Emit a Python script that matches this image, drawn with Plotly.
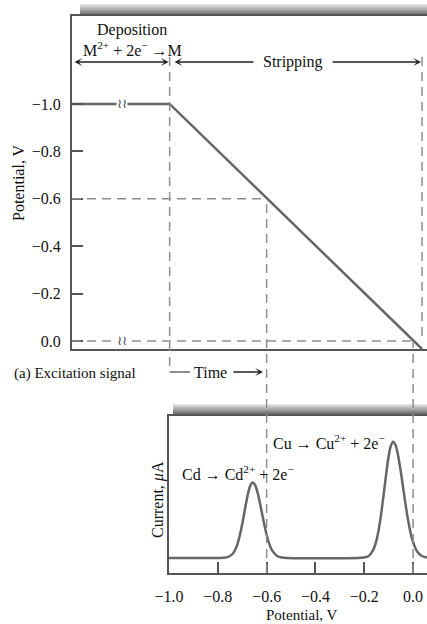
import plotly.graph_objects as go

W, H = 427, 624

# ---------------- data ----------------
# (a) excitation signal: time (arbitrary units) vs potential (V)
signal_time = [0.0, 0.4, 1.434]
signal_potential = [-1.0, -1.0, 0.034]

# tick values / labels (potential axis)
potential_ticks = [-1.0, -0.8, -0.6, -0.4, -0.2, 0.0]
potential_ticktext = ["\u22121.0", "\u22120.8", "\u22120.6", "\u22120.4", "\u22120.2", "0.0"]

# (b) stripping voltammogram: potential (V) vs current (arbitrary µA)
strip_potential = [-1.0, -0.797, -0.777, -0.757, -0.737, -0.727, -0.717, -0.707, -0.697,
                   -0.687, -0.677, -0.667, -0.657, -0.647, -0.637, -0.627, -0.617, -0.607,
                   -0.597, -0.587, -0.577, -0.557, -0.537, -0.517, -0.222, -0.202, -0.182,
                   -0.162, -0.152, -0.142, -0.132, -0.122, -0.112, -0.102, -0.092, -0.082,
                   -0.072, -0.062, -0.052, -0.042, -0.032, -0.022, -0.012, -0.002, 0.018,
                   0.038, 0.058]
strip_current = [1.0, 1.0, 1.01, 1.07, 1.31, 1.60, 2.05, 2.70, 3.50,
                 4.39, 5.21, 5.79, 6.0, 5.82, 5.32, 4.60, 3.79, 3.01,
                 2.34, 1.83, 1.48, 1.13, 1.03, 1.0, 1.0, 1.02, 1.13,
                 1.57, 2.04, 2.77, 3.78, 5.01, 6.34, 7.54, 8.39, 8.7,
                 8.48, 7.84, 6.89, 5.78, 4.66, 3.64, 2.79, 2.15, 1.39,
                 1.11, 1.02]

guide_potentials = [-0.6, 0.0]

# ---------------- layout helpers ----------------
def px(x):
    return x / W

def py(y):
    return 1 - y / H

TOP_X_DOM = [px(72), 1.0]
TOP_Y_DOM = [py(349), py(16)]
TOP_Y_RANGE = [0.034, -1.371]
TOP_X_RANGE = [0.0, 1.4543]
BOT_X_DOM = [px(169), 1.0]
BOT_Y_DOM = [py(573), py(416)]
BOT_X_RANGE = [-1.0, 0.057]
BOT_Y_RANGE = [0.0, 10.4]

def top_y_paper(E):
    r0, r1 = TOP_Y_RANGE
    d0, d1 = TOP_Y_DOM
    return d0 + (E - r0) / (r1 - r0) * (d1 - d0)

def time_at_potential(E):
    t0, t1 = signal_time[1], signal_time[2]
    e0, e1 = signal_potential[1], signal_potential[2]
    return t0 + (E - e0) * (t1 - t0) / (e1 - e0)

FONT = "Liberation Serif"
TXT = "#111111"
LINE = "#666666"
AX = "#555555"
DASH = dict(color="#8e8e8e", width=1.5, dash="9px,6px")

fig = go.Figure()
fig.add_trace(go.Scatter(x=signal_time, y=signal_potential, mode="lines",
                         line=dict(color=LINE, width=2.5), xaxis="x", yaxis="y",
                         showlegend=False, hoverinfo="skip"))
fig.add_trace(go.Scatter(x=strip_potential, y=strip_current, mode="lines",
                         line=dict(color=LINE, width=2.5, shape="spline", smoothing=0.8),
                         xaxis="x2", yaxis="y2", showlegend=False, hoverinfo="skip"))

shapes = []
# gradient bars above the frames
def gradient_bar(x0, x1, y0, y1):
    n = int(round(y1 - y0))
    for i in range(n):
        c = int(228 - (228 - 112) * i / max(n - 1, 1))
        shapes.append(dict(type="rect", xref="paper", yref="paper",
                           x0=px(x0), x1=px(x1), y0=py(y0 + i + 1), y1=py(y0 + i),
                           line=dict(width=0), fillcolor=f"rgb({c},{c},{c})", layer="below"))
gradient_bar(80, 427, 4, 15)
gradient_bar(173, 427, 404, 414)

# horizontal guides in the excitation plot
for E in guide_potentials:
    shapes.append(dict(type="line", xref="x", yref="y", x0=signal_time[0],
                       x1=time_at_potential(E), y0=E, y1=E, line=DASH))
# vertical guide at end of deposition
shapes.append(dict(type="line", xref="x", yref="paper", x0=signal_time[1], x1=signal_time[1],
                   y0=py(57), y1=py(372), line=DASH))
# vertical guide at end of stripping
shapes.append(dict(type="line", xref="x", yref="paper", x0=signal_time[2], x1=signal_time[2],
                   y0=py(57), y1=top_y_paper(0.0), line=DASH))
# vertical guides linking potentials to voltammogram
for E in guide_potentials:
    shapes.append(dict(type="line", xref="x2", yref="paper", x0=E, x1=E,
                       y0=BOT_Y_DOM[0], y1=top_y_paper(E), line=DASH))
# "Time" connector
shapes.append(dict(type="line", xref="x", yref="paper", x0=signal_time[1],
                   x1=(190 - 72) / 244.1, y0=py(372), y1=py(372),
                   line=dict(color="#444444", width=1.2)))

f16 = dict(family=FONT, size=16, color=TXT)
ann = []
def text(x, y, s, size=16, **kw):
    d = dict(x=x, y=y, xref="paper", yref="paper", text=s, showarrow=False,
             xanchor="center", yanchor="middle",
             font=dict(family=FONT, size=size, color=TXT))
    d.update(kw)
    ann.append(d)

text(px(132), py(30), "Deposition")
text(px(132), py(49), "M<sup>2+</sup> + 2e<sup>\u2212</sup> \u2192M")
# double-headed arrows
arrow_style = dict(showarrow=True, arrowhead=3, startarrowhead=3, arrowside="end+start",
                   arrowsize=1, startarrowsize=1, arrowwidth=1.3, arrowcolor="#222222",
                   text="", standoff=1, startstandoff=1)
ann.append(dict(xref="x", axref="x", x=signal_time[1], ax=signal_time[0],
                yref="paper", ayref="pixel", y=py(62), ay=0, **arrow_style))
ann.append(dict(xref="x", axref="x", x=signal_time[2], ax=signal_time[1] + 0.01,
                yref="paper", ayref="pixel", y=py(62), ay=0, **arrow_style))
text(px(292.5), py(62), "Stripping", bgcolor="white", borderpad=9)

# break marks
for E in [-1.0, 0.0]:
    ann.append(dict(x=0.205, y=E, xref="x", yref="y", text="\u2240\u2240", showarrow=False,
                    xanchor="center", yanchor="middle",
                    font=dict(family="DejaVu Sans", size=13, color="#444444"),
                    bgcolor="white", borderpad=0))

text(px(210), py(372), "Time")
ann.append(dict(xref="paper", yref="paper", x=px(263), y=py(372), ax=-31, ay=0,
                showarrow=True, arrowhead=3, arrowsize=1, arrowwidth=1.3,
                arrowcolor="#222222", text="", standoff=0))
text(px(12), py(373), "(a) Excitation signal", size=15, xanchor="left")

text(px(329), py(442), "Cu \u2192 Cu<sup>2+</sup> + 2e<sup>\u2212</sup>")
text(px(238.5), py(473), "Cd \u2192 Cd<sup>2+</sup> + 2e<sup>\u2212</sup>")

text(px(18), py(183), "Potential, V", textangle=-90)
text(px(158), py(500), "Current, <i>\u03bc</i>A", textangle=-90)
text(px(302), py(615), "Potential, V", size=15)

axis_common = dict(showgrid=False, zeroline=False, showline=True, linecolor=AX,
                   linewidth=2, automargin=False)

fig.update_layout(
    width=W, height=H, margin=dict(l=0, r=0, t=0, b=0, pad=0, autoexpand=False),
    paper_bgcolor="white", plot_bgcolor="white", showlegend=False,
    xaxis=dict(domain=TOP_X_DOM, range=TOP_X_RANGE, anchor="y", mirror=True,
               showticklabels=False, ticks="", **axis_common),
    yaxis=dict(domain=TOP_Y_DOM, range=TOP_Y_RANGE, anchor="x",
               tickvals=potential_ticks, ticktext=potential_ticktext,
               ticks="inside", ticklen=11, tickwidth=2, tickcolor=AX,
               ticklabelstandoff=6, tickfont=f16, **axis_common),
    xaxis2=dict(domain=BOT_X_DOM, range=BOT_X_RANGE, anchor="y2", mirror=True,
                tickvals=potential_ticks, ticktext=potential_ticktext,
                ticks="inside", ticklen=11, tickwidth=2, tickcolor=AX,
                ticklabelstandoff=8, tickfont=f16, **axis_common),
    yaxis2=dict(domain=BOT_Y_DOM, range=BOT_Y_RANGE, anchor="x2",
                showticklabels=False, ticks="", **axis_common),
    shapes=shapes, annotations=ann,
)

fig.write_html("out.html", config={"displayModeBar": False},
               post_script="document.body.style.margin='0';document.body.style.overflow='hidden';")
